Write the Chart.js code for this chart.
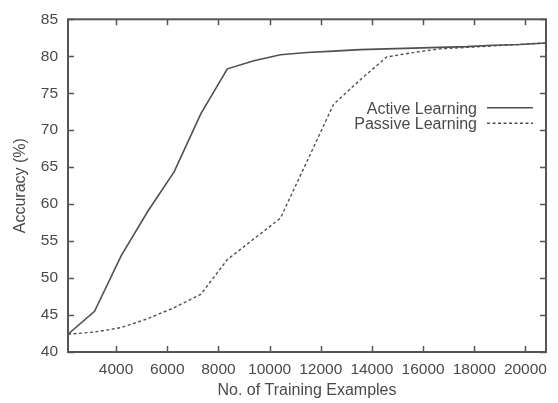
<!DOCTYPE html>
<html><head><meta charset="utf-8">
<script src="https://cdn.jsdelivr.net/npm/chart.js@4/dist/chart.umd.min.js"></script>
<style>html,body{margin:0;padding:0;background:#fff}#wrap{width:558px;height:403px}</style>
</head><body><div id="wrap"><canvas id="c" width="558" height="403"></canvas></div>
<script>
const trainingExamples = [2120, 3158, 4196, 5234, 6272, 7310, 8348, 9386, 10424, 11462, 12500, 13538, 14576, 15614, 16652, 17690, 18728, 19766, 20804];
const activeAccuracy  = [42.4, 45.5, 53.0, 59.0, 64.4, 72.2, 78.3, 79.4, 80.2, 80.5, 80.7, 80.9, 81.0, 81.1, 81.2, 81.3, 81.5, 81.6, 81.8];
const passiveAccuracy = [42.4, 42.7, 43.3, 44.5, 46.0, 47.8, 52.5, 55.3, 58.1, 65.8, 73.5, 76.8, 79.9, 80.5, 81.0, 81.2, 81.4, 81.6, 81.8];
const seriesNames = ['Active Learning', 'Passive Learning'];
const xTickValues = [4000, 6000, 8000, 10000, 12000, 14000, 16000, 18000, 20000];
const yTickValues = [40, 45, 50, 55, 60, 65, 70, 75, 80, 85];
const xTitle = 'No. of Training Examples';
const yTitle = 'Accuracy (%)';

const INK = '#4a4a4a';
const FONT = 'Liberation Sans, Arial, Helvetica, sans-serif';

const pts = arr => trainingExamples.map((x, i) => ({x: x, y: arr[i]}));

const frameTicks = {
  id: 'frameTicks',
  afterDraw(chart) {
    const {ctx, chartArea: a, scales: {x, y}} = chart;
    ctx.save();
    ctx.strokeStyle = '#555';
    ctx.lineWidth = 1.5;
    ctx.beginPath();
    x.ticks.forEach(t => {
      const px = Math.round(x.getPixelForValue(t.value)) + 0.5;
      ctx.moveTo(px, a.bottom); ctx.lineTo(px, a.bottom - 6);
      ctx.moveTo(px, a.top); ctx.lineTo(px, a.top + 6);
    });
    y.ticks.forEach(t => {
      const py = Math.round(y.getPixelForValue(t.value)) + 0.5;
      ctx.moveTo(a.left, py); ctx.lineTo(a.left + 6, py);
      ctx.moveTo(a.right, py); ctx.lineTo(a.right - 6, py);
    });
    ctx.stroke();
    ctx.lineWidth = 2;
    ctx.strokeRect(a.left, a.top, a.right - a.left, a.bottom - a.top);
    ctx.restore();
  }
};

const keyBox = {
  id: 'keyBox',
  afterDraw(chart) {
    const {ctx, chartArea: a} = chart;
    ctx.save();
    ctx.font = '16px ' + FONT;
    ctx.fillStyle = INK;
    ctx.textAlign = 'right';
    ctx.textBaseline = 'middle';
    chart.data.datasets.forEach((ds, i) => {
      const yy = a.top + 90 + i * 15.5;
      ctx.fillText(ds.label, a.right - 69, yy);
      ctx.beginPath();
      ctx.strokeStyle = ds.borderColor;
      ctx.lineWidth = ds.borderWidth;
      ctx.setLineDash(ds.borderDash || []);
      ctx.moveTo(a.right - 59, yy - 1.5);
      ctx.lineTo(a.right - 13, yy - 1.5);
      ctx.stroke();
    });
    ctx.restore();
  }
};

new Chart(document.getElementById('c'), {
  type: 'line',
  data: {
    datasets: [
      {label: seriesNames[0], data: pts(activeAccuracy), borderColor: '#505050', borderWidth: 1.6, pointRadius: 0, tension: 0, fill: false},
      {label: seriesNames[1], data: pts(passiveAccuracy), borderColor: '#505050', borderWidth: 1.4, borderDash: [3, 2.5], pointRadius: 0, tension: 0, fill: false}
    ]
  },
  options: {
    responsive: false,
    animation: false,
    devicePixelRatio: 1,
    layout: {padding: {top: 13, right: 12, left: 0, bottom: 0}},
    plugins: {legend: {display: false}, tooltip: {enabled: false}},
    scales: {
      x: {
        type: 'linear',
        min: trainingExamples[0],
        max: trainingExamples[trainingExamples.length - 1],
        afterBuildTicks: s => { s.ticks = xTickValues.map(v => ({value: v})); },
        afterFit: s => { s.height = 51; },
        grid: {display: false, drawTicks: false},
        border: {display: false},
        ticks: {font: {size: 15.5, family: FONT}, color: INK, padding: 8, maxRotation: 0, autoSkip: false, callback: v => String(v)},
        title: {display: true, text: xTitle, font: {size: 16, family: FONT}, color: INK, padding: {top: 0, bottom: 3}}
      },
      y: {
        type: 'linear',
        min: yTickValues[0],
        max: yTickValues[yTickValues.length - 1],
        afterBuildTicks: s => { s.ticks = yTickValues.map(v => ({value: v})); },
        afterFit: s => { s.width = 68; },
        grid: {display: false, drawTicks: false},
        border: {display: false},
        ticks: {font: {size: 15.5, family: FONT}, color: INK, padding: 10, autoSkip: false},
        title: {display: true, text: yTitle, font: {size: 16, family: FONT}, color: INK, padding: {top: 11, bottom: 0}}
      }
    }
  },
  plugins: [frameTicks, keyBox]
});
</script>
</body></html>
